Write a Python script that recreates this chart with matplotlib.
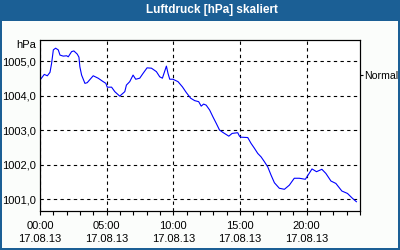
import matplotlib
matplotlib.use("Agg")
import matplotlib.pyplot as plt
from matplotlib.patches import Rectangle

plt.rcParams['font.family'] = ['Liberation Sans', 'DejaVu Sans']

title = "Luftdruck [hPa] skaliert"
unit = "hPa"
normal_label = "Normal"
normal_value = 1004.60
ytick_values = [1001.0, 1002.0, 1003.0, 1004.0, 1005.0]
ytick_labels = ["1001,0", "1002,0", "1003,0", "1004,0", "1005,0"]
xtick_hours = [0, 5, 10, 15, 20]
xtick_labels = ["00:00\n17.08.13", "05:00\n17.08.13", "10:00\n17.08.13",
                "15:00\n17.08.13", "20:00\n17.08.13"]

hours = [0.05, 0.32, 0.55, 0.75, 0.87, 1.0, 1.17, 1.37, 1.5, 1.74, 2.0, 2.12, 2.37,
         2.54, 2.79, 2.92, 2.99, 3.12, 3.37, 3.54, 3.99, 4.36, 4.74, 4.94, 5.04,
         5.37, 5.61, 5.98, 6.36, 6.48, 6.73, 6.98, 7.18, 7.48, 7.73, 8.03, 8.36,
         8.73, 8.98, 9.18, 9.30, 9.48, 9.60, 9.73, 9.97, 10.35, 10.68, 10.98,
         11.30, 11.60, 11.90, 12.09, 12.27, 12.46, 12.72, 12.97, 13.22, 13.46,
         13.71, 14.16, 14.41, 14.83, 14.96, 15.08, 15.58, 15.83, 16.08, 16.33,
         16.58, 16.83, 17.08, 17.33, 17.58, 17.95, 18.33, 18.70, 19.07, 19.45,
         19.90, 20.07, 20.40, 20.74, 21.14, 21.44, 21.82, 22.19, 22.64, 23.06,
         23.43, 23.73]
pressure = [1004.48, 1004.62, 1004.58, 1004.68, 1004.94, 1005.33, 1005.38, 1005.33,
            1005.18, 1005.15, 1005.16, 1005.13, 1005.28, 1005.30, 1005.21, 1005.12,
            1004.84, 1004.60, 1004.36, 1004.38, 1004.58, 1004.51, 1004.41, 1004.36,
            1004.25, 1004.25, 1004.12, 1003.99, 1004.12, 1004.31, 1004.41, 1004.60,
            1004.48, 1004.51, 1004.65, 1004.81, 1004.80, 1004.70, 1004.55, 1004.51,
            1004.65, 1004.86, 1004.65, 1004.48, 1004.48, 1004.41, 1004.26, 1004.09,
            1003.93, 1003.86, 1003.83, 1003.70, 1003.76, 1003.73, 1003.59, 1003.39,
            1003.20, 1003.01, 1002.94, 1002.83, 1002.91, 1002.93, 1002.83, 1002.80,
            1002.79, 1002.62, 1002.48, 1002.33, 1002.23, 1002.09, 1001.94, 1001.70,
            1001.48, 1001.32, 1001.29, 1001.41, 1001.61, 1001.61, 1001.58, 1001.68,
            1001.88, 1001.80, 1001.87, 1001.75, 1001.53, 1001.46, 1001.24, 1001.17,
            1001.03, 1000.93]

W, H = 400, 250
fig = plt.figure(figsize=(4, 2.5), dpi=100)
fig.patch.set_facecolor("#fbfdfb")
blue = "#1b5f95"

# title bar and frame
for rect in [(0, 1 - 21 / H, 1, 21 / H), (0, 0, 2 / W, 1),
             (1 - 2 / W, 0, 2 / W, 1), (0, 0, 1, 2 / H)]:
    fig.add_artist(Rectangle(rect[:2], rect[2], rect[3], transform=fig.transFigure,
                             facecolor=blue, edgecolor="none", zorder=-1))
fig.text(211.5 / W, 1 - 10.5 / H, title, color="white", fontsize=8.5,
         fontweight="bold", ha="center", va="center")

ax = fig.add_axes([40 / W, (H - 211) / H, 320 / W, 171 / H])
ax.set_facecolor("white")
ax.plot(hours, pressure, color="#0000ff", linewidth=0.8)
ax.set_xlim(0, 24)
ax.set_ylim(1000.661, 1005.617)

ax.set_yticks(ytick_values)
ax.set_yticklabels(ytick_labels)
ax.set_xticks(xtick_hours)
ax.set_xticklabels(xtick_labels, linespacing=1.35)
ax.set_xticks(range(0, 25), minor=True)
ax.tick_params(axis="y", length=0, pad=3, labelsize=8)
ax.tick_params(axis="x", which="both", direction="out", length=3.2, width=0.8,
               pad=4, labelsize=8)
ax.grid(True, which="major", color="black", linestyle=(0, (3, 3)), linewidth=0.8)
for s in ax.spines.values():
    s.set_linewidth(0.8)

ax2 = ax.twinx()
ax2.set_ylim(ax.get_ylim())
ax2.set_yticks([normal_value])
ax2.set_yticklabels([normal_label])
ax2.tick_params(axis="y", direction="out", length=2.5, width=0.8, pad=0.8, labelsize=7.6)

fig.text(26 / W, 1 - 45 / H, unit, fontsize=8, ha="center", va="center")

fig.savefig("out.png", dpi=100, facecolor=fig.get_facecolor())
